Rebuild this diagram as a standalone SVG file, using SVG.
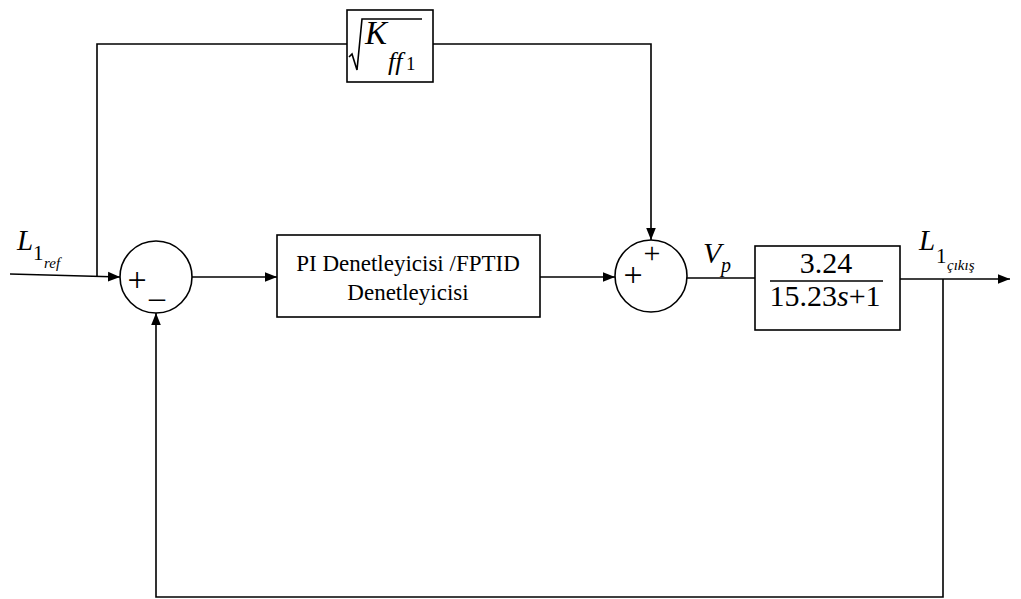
<svg xmlns="http://www.w3.org/2000/svg" width="1021" height="599" viewBox="0 0 1021 599">
  <style>
    .ln { fill: none; stroke: #000; stroke-width: 1.6; }
    .bx { fill: #fff; stroke: #000; stroke-width: 1.6; }
    .t { font-family: "Liberation Serif", "DejaVu Serif", "Times New Roman", Times, serif; fill: #000; }
    .i { font-style: italic; }
  </style>
  <defs>
    <marker id="arr" viewBox="0 0 10 10" refX="10" refY="5" markerWidth="12" markerHeight="12" markerUnits="userSpaceOnUse" orient="auto">
      <path d="M0,1 L10,5 L0,9 Z" fill="#000"/>
    </marker>
  </defs>

  <!-- signal lines -->
  <g id="connectors">
    <path class="ln" d="M10,274 L120,277" marker-end="url(#arr)"/>
    <path class="ln" d="M97,276 L97,44 L347,44"/>
    <path class="ln" d="M433,44 L651,44 L651,240" marker-end="url(#arr)"/>
    <path class="ln" d="M192,277 L277,277" marker-end="url(#arr)"/>
    <path class="ln" d="M540,277 L615,277" marker-end="url(#arr)"/>
    <path class="ln" d="M687,278 L755,278"/>
    <path class="ln" d="M900,279 L1010,279" marker-end="url(#arr)"/>
    <path class="ln" d="M943,279 L943,597 L156,597 L156,313" marker-end="url(#arr)"/>
  </g>

  <!-- feed-forward gain -->
  <g id="gain-kff">
    <rect class="bx" x="347" y="10" width="86" height="72"/>
    <path class="ln" d="M349,57 L352,54 L357,70 L362,19 L422,19" stroke-width="1.2"/>
    <text class="t i" x="365" y="44" font-size="33">K</text>
    <text class="t i" x="388" y="70" font-size="26">ff</text>
    <text class="t" x="406" y="70" font-size="19">1</text>
  </g>

  <!-- input label -->
  <g id="input-label">
    <text class="t i" x="17" y="250" font-size="29">L</text>
    <text class="t" x="33" y="260" font-size="21">1</text>
    <text class="t i" x="44" y="268" font-size="15">ref</text>
  </g>

  <!-- error summing junction -->
  <g id="sum-error">
    <circle class="bx" cx="156" cy="277" r="36"/>
    <text class="t" x="137" y="291" font-size="34" text-anchor="middle">+</text>
    <text class="t" x="157" y="297" font-size="32" text-anchor="middle">_</text>
  </g>

  <!-- controller -->
  <g id="controller">
    <rect class="bx" x="277" y="235" width="263" height="82"/>
    <text class="t" x="408" y="271" font-size="23" text-anchor="middle">PI Denetleyicisi /FPTID</text>
    <text class="t" x="408" y="300" font-size="23" text-anchor="middle">Denetleyicisi</text>
  </g>

  <!-- feed-forward summing junction -->
  <g id="sum-ff">
    <circle class="bx" cx="651" cy="276" r="36"/>
    <text class="t" x="652" y="263" font-size="30" text-anchor="middle">+</text>
    <text class="t" x="633" y="286" font-size="34" text-anchor="middle">+</text>
  </g>

  <!-- plant input label -->
  <g id="vp-label">
    <text class="t i" x="703" y="263" font-size="30">V</text>
    <text class="t i" x="721" y="272" font-size="20">p</text>
  </g>

  <!-- plant transfer function -->
  <g id="plant">
    <rect class="bx" x="755" y="246" width="145" height="84"/>
    <text class="t" x="826" y="273" font-size="30" text-anchor="middle">3.24</text>
    <path class="ln" d="M770,281 L883,281" stroke-width="1.2"/>
    <text class="t" x="825" y="306" font-size="30" text-anchor="middle">15.23<tspan class="i">s</tspan>+1</text>
  </g>

  <!-- output label -->
  <g id="output-label">
    <text class="t i" x="919" y="250" font-size="29">L</text>
    <text class="t" x="936" y="263" font-size="21">1</text>
    <text class="t i" x="947" y="270" font-size="15">çıkış</text>
  </g>
</svg>
